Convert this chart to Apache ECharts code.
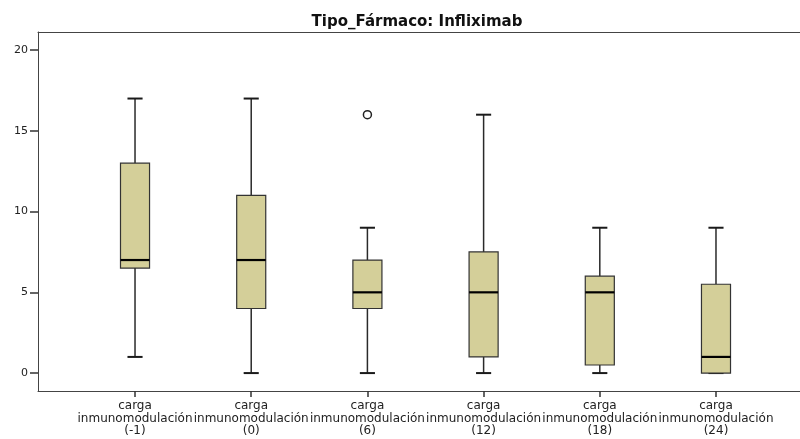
<!DOCTYPE html>
<html>
<head>
<meta charset="utf-8">
<script src="https://cdn.jsdelivr.net/npm/echarts@6/dist/echarts.min.js"></script>
<style>html,body{margin:0;padding:0;background:#fff}#c{width:800px;height:439px}</style>
</head>
<body>
<div id="c"></div>
<script>
const categories = ['carga\ninmunomodulación\n(-1)', 'carga\ninmunomodulación\n(0)', 'carga\ninmunomodulación\n(6)', 'carga\ninmunomodulación\n(12)', 'carga\ninmunomodulación\n(18)', 'carga\ninmunomodulación\n(24)'];
const mins = [1, 0, 0, 0, 0, 0];
const q1s = [6.5, 4, 4, 1, 0.5, 0];
const medians = [7, 7, 5, 5, 5, 1];
const q3s = [13, 11, 7, 7.5, 6, 5.5];
const maxs = [17, 17, 9, 16, 9, 9];
const outliers = [[2, 16]];
const yTicks = [0, 5, 10, 15, 20];

const boxData = categories.map((c, i) => [i, mins[i], q1s[i], medians[i], q3s[i], maxs[i]]);
const catIdx = categories.map((c, i) => i);

const chart = echarts.init(document.getElementById('c'));
const FONT = 'DejaVu Sans';
chart.setOption({
  backgroundColor: '#fff',
  animation: false,
  title: {
    text: 'Tipo_Fármaco: Infliximab',
    left: 412, top: 10, textAlign: 'center',
    textStyle: { fontFamily: FONT, fontSize: 15, fontWeight: 'bold', color: '#111' }
  },
  grid: { left: 38, top: 32, bottom: 48, right: 0 },
  xAxis: [{
    type: 'value', min: -0.835, max: 5.723,
    splitLine: { show: false },
    axisLine: { show: true, onZero: false, lineStyle: { color: '#444', width: 1 } },
    axisTick: { show: true, length: 6, customValues: catIdx, lineStyle: { color: '#333', width: 1.5 } },
    axisLabel: {
      customValues: catIdx,
      formatter: v => categories[Math.round(v)],
      fontFamily: FONT, fontSize: 12, lineHeight: 12.5, color: '#222', margin: 9
    }
  }, {
    type: 'value', position: 'top', min: -0.835, max: 5.723,
    splitLine: { show: false },
    axisLine: { show: true, onZero: false, lineStyle: { color: '#444', width: 1 } },
    axisTick: { show: false }, axisLabel: { show: false }
  }],
  yAxis: {
    type: 'value', min: -1.11, max: 21.12,
    splitLine: { show: false },
    axisLine: { show: true, onZero: false, lineStyle: { color: '#444', width: 1 } },
    axisTick: { show: true, length: 8, customValues: yTicks, lineStyle: { color: '#333', width: 1.5 } },
    axisLabel: { customValues: yTicks, fontFamily: FONT, fontSize: 11, color: '#222', margin: 10 }
  },
  series: [
    {
      type: 'custom',
      data: boxData,
      renderItem: function (params, api) {
        const x = api.value(0);
        const unit = api.size([1, 0])[0];
        const bw = unit * 0.25, cw = unit * 0.13;
        const pMin = api.coord([x, api.value(1)]);
        const pQ1 = api.coord([x, api.value(2)]);
        const pMed = api.coord([x, api.value(3)]);
        const pQ3 = api.coord([x, api.value(4)]);
        const pMax = api.coord([x, api.value(5)]);
        const cx = pMin[0];
        const ls = { stroke: '#2a2a2a', lineWidth: 1.5 };
        return {
          type: 'group',
          children: [
            { type: 'line', shape: { x1: cx, y1: pQ3[1], x2: cx, y2: pMax[1] }, style: ls },
            { type: 'line', shape: { x1: cx, y1: pQ1[1], x2: cx, y2: pMin[1] }, style: ls },
            { type: 'line', shape: { x1: cx - cw / 2, y1: pMax[1], x2: cx + cw / 2, y2: pMax[1] }, style: { stroke: '#1a1a1a', lineWidth: 2 } },
            { type: 'line', shape: { x1: cx - cw / 2, y1: pMin[1], x2: cx + cw / 2, y2: pMin[1] }, style: { stroke: '#1a1a1a', lineWidth: 2 } },
            { type: 'rect', shape: { x: cx - bw / 2, y: pQ3[1], width: bw, height: pQ1[1] - pQ3[1] }, style: { fill: '#d4cf99', stroke: '#333', lineWidth: 1.2 } },
            { type: 'line', shape: { x1: cx - bw / 2, y1: pMed[1], x2: cx + bw / 2, y2: pMed[1] }, style: { stroke: '#000', lineWidth: 2.2 } }
          ]
        };
      }
    },
    {
      type: 'scatter',
      data: outliers,
      symbol: 'circle', symbolSize: 8,
      itemStyle: { color: '#fff', borderColor: '#222', borderWidth: 1.5, opacity: 1 }
    }
  ]
});
</script>
</body>
</html>
